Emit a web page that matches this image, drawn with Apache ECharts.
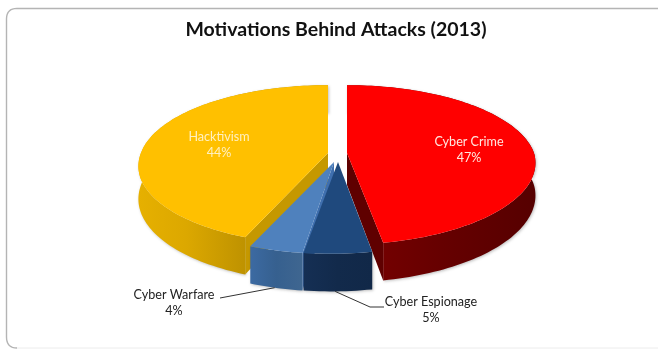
<!DOCTYPE html>
<html>
<head>
<meta charset="utf-8">
<style>html,body{margin:0;padding:0;background:#fff}#c{width:658px;height:349px}</style>
<script src="https://cdn.jsdelivr.net/npm/echarts@6/dist/echarts.min.js"></script>
</head>
<body>
<div id="c"></div>
<script>
// Shares, clockwise from twelve o'clock
const categories = ['Cyber Crime', 'Cyber Espionage', 'Cyber Warfare', 'Hacktivism'];
const shares = [47, 5, 4, 44];
const shareLabels = ['47%', '5%', '4%', '44%'];

// Per-slice styling, same order as the categories
const topColors = ['#ff0000', '#1f497d', '#4f81bd', '#ffc000'];
const wallStops = [
  [[0, '#7a0000'], [0.5, '#660000'], [1, '#560000']],
  [[0, '#152f54'], [0.5, '#122a4b'], [1, '#112848']],
  [[0, '#3c6aa2'], [0.5, '#36608f'], [1, '#3f6690']],
  [[0, '#e6b000'], [0.25, '#dca800'], [0.58, '#bd9100'], [1, '#bd9100']]
];
const edgeColors = ['#5f0000', '#16345c', '#3f6fae', '#c59800'];
const labelColors = ['#ffe8e0', '#222222', '#222222', '#fff0c0'];
// Hub of each exploded slice on screen, and the sideways lean of its front rim
const hubs = [[347, 153], [338, 162], [334, 162], [328, 153]];
const leans = [-5, -7, -4, -3];
// Text centre of each two-line label
const labelAt = [[469, 150], [431, 310], [174, 303], [219, 145]];
// Leader lines, for the two small slices: elbow points after the anchor on the rim
const leaders = [null, { rim: 0.54, pts: [[370, 307], [384, 307]] }, { rim: 0.52, pts: [[220, 298]] }, null];
const drawOrder = [1, 3, 2, 0]; // painter's order for overlapping slices

// Tilted-disc projection with a little perspective
const RX = 187, RY = 78, PERSP = 0.15, DEPTH = 32;
const total = shares.reduce((a, b) => a + b, 0);

function project(hub, lean, ang, r, drop) {
  const u = r * Math.sin(ang), v = -r * Math.cos(ang), w = 1 - PERSP * v;
  return [hub[0] + RX * u / w + lean * Math.max(v, 0), hub[1] + (RY * v + drop) / w];
}
function arc(hub, lean, a0, a1, drop) {
  const pts = [], n = Math.max(4, Math.ceil((a1 - a0) * 40));
  for (let i = 0; i <= n; i++) pts.push(project(hub, lean, a0 + (a1 - a0) * i / n, 1, drop));
  return pts;
}

function renderSlice(params, api) {
  const i = params.dataIndex;
  const before = shares.slice(0, i).reduce((a, b) => a + b, 0);
  const a0 = before / total * 2 * Math.PI;
  const a1 = (before + api.value(0)) / total * 2 * Math.PI;
  const hub = hubs[i], lean = leans[i];
  const z = drawOrder[i] * 10;
  const top = arc(hub, lean, a0, a1, 0), low = arc(hub, lean, a0, a1, DEPTH);
  const hubLow = project(hub, 0, 0, 0, DEPTH);
  const children = [];

  // Cut faces: a radial edge shows when the slice body lies behind it
  const cut = (p, q) => ({
    type: 'polygon', z2: z + 1,
    shape: { points: [hub, p, q, hubLow] },
    style: { fill: edgeColors[i] }
  });
  if (Math.sin(a0) < -0.02) children.push(cut(top[0], low[0]));
  if (Math.sin(a1) > 0.02) children.push(cut(top[top.length - 1], low[low.length - 1]));

  // Outer wall
  children.push({
    type: 'polygon', z2: z,
    shape: { points: top.concat(low.slice().reverse()) },
    style: {
      fill: {
        type: 'linear', x: 0, y: 0, x2: 1, y2: 0,
        colorStops: wallStops[i].map(s => ({ offset: s[0], color: s[1] }))
      },
      shadowColor: 'rgba(0,0,0,0.25)', shadowBlur: 3, shadowOffsetX: 1, shadowOffsetY: 1
    }
  });

  // Top face
  children.push({
    type: 'polygon', z2: z + 2,
    shape: { points: [hub].concat(top) },
    style: { fill: topColors[i] }
  });

  // Leader line from the slice's rim to its label
  if (leaders[i]) {
    const rim = project(hub, lean, a0 + (a1 - a0) * leaders[i].rim, 1, DEPTH);
    children.push({
      type: 'polyline', z2: 60,
      shape: { points: [rim].concat(leaders[i].pts) },
      style: { stroke: '#333333', lineWidth: 1, fill: null }
    });
  }

  // Two-line value label
  children.push({
    type: 'text', z2: 70,
    style: {
      x: labelAt[i][0], y: labelAt[i][1],
      text: api.value(1) + '\n' + shareLabels[i],
      fill: labelColors[i], font: '12.6px Lato, "Open Sans", sans-serif',
      align: 'center', verticalAlign: 'middle', lineHeight: 16
    }
  });
  return { type: 'group', children };
}

// Rounded corner of the panel outline, sampled as a quadratic curve
function corner(p0, c, p1) {
  const pts = [];
  for (let k = 0; k <= 8; k++) {
    const t = k / 8, s = 1 - t;
    pts.push([s * s * p0[0] + 2 * s * t * c[0] + t * t * p1[0], s * s * p0[1] + 2 * s * t * c[1] + t * t * p1[1]]);
  }
  return pts;
}
const panelEdge = [[660, 8.5]]
  .concat(corner([17, 8.5], [6.5, 8.5], [6.5, 19]))
  .concat(corner([6.5, 337], [6.5, 348], [17, 348]));

const chart = echarts.init(document.getElementById('c'), null, { renderer: 'canvas' });
chart.setOption({
  animation: false,
  backgroundColor: '#ffffff',
  title: {
    text: 'Motivations Behind Attacks (2013)',
    left: 331, top: 15, textAlign: 'center',
    textStyle: { fontFamily: 'Lato, "Open Sans", sans-serif', fontWeight: 'bold', fontSize: 19.5, color: '#111111' }
  },
  graphic: [
    {
      // Faint bottom edge of the panel
      type: 'line', z: -1, silent: true,
      shape: { x1: 16, y1: 348, x2: 658, y2: 348 },
      style: { stroke: '#ececec', lineWidth: 1 }
    },
    {
      // Top and left edges with rounded corners
      type: 'polyline', z: -1, silent: true,
      shape: { points: panelEdge },
      style: { fill: null, stroke: '#b4b4b4', lineWidth: 1.4 }
    }
  ],
  series: [{
    type: 'custom',
    coordinateSystem: 'none',
    renderItem: renderSlice,
    data: categories.map((name, i) => [shares[i], name])
  }]
});
</script>
</body>
</html>
